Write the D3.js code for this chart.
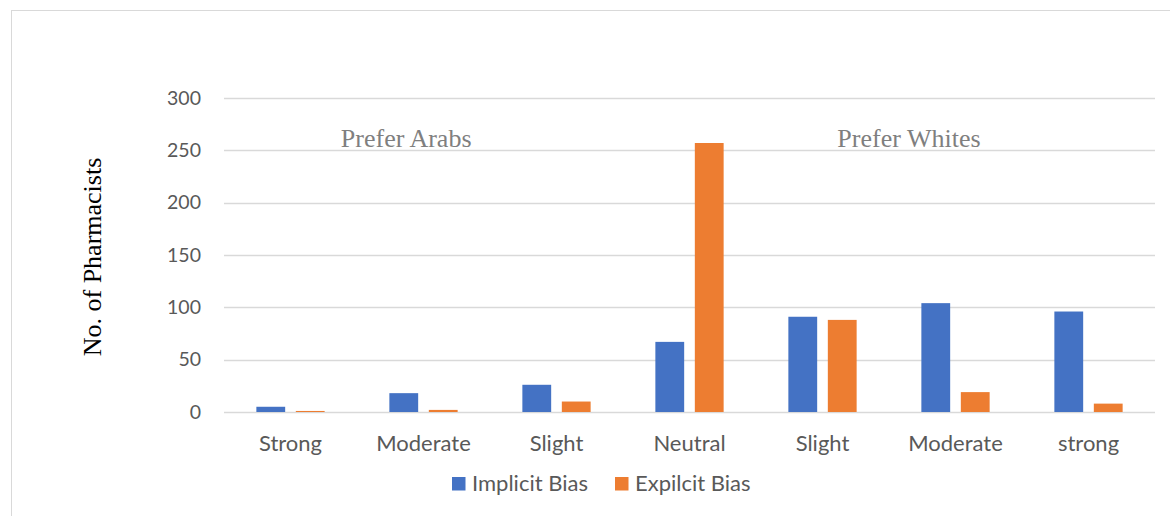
<!DOCTYPE html>
<html>
<head>
<meta charset="utf-8">
<script src="https://cdn.jsdelivr.net/npm/d3@7"></script>
<style>
  html, body { margin: 0; padding: 0; background: #fff; }
  svg { display: block; }
</style>
</head>
<body>
<svg id="chart" width="1170" height="516"></svg>
<script>
// Bias category along the IAT / self-report scale
const categories = ["Strong", "Moderate", "Slight", "Neutral", "Slight", "Moderate", "strong"];
const seriesNames = ["Implicit Bias", "Expilcit Bias"];
const implicitBias = [5, 18, 26, 67, 91, 104, 96];
const explicitBias = [1, 2, 10, 257, 88, 19, 8];
const yTicks = [0, 50, 100, 150, 200, 250, 300];
const sideLabels = ["Prefer Arabs", "Prefer Whites"];
const colors = ["#4472C4", "#ED7D31"];

const svg = d3.select("#chart");
const W = 1170, H = 516;
const margin = { left: 224, right: 15, top: 98, bottom: 104 };
const sans = "Lato, 'Open Sans', sans-serif";
const serif = "'Liberation Serif', 'Times New Roman', serif";

// Outer frame
svg.append("rect")
  .attr("x", 11.5).attr("y", 10.5)
  .attr("width", W + 10).attr("height", H + 10)
  .attr("fill", "#fff").attr("stroke", "#d9d9d9").attr("stroke-width", 1);

const x = d3.scaleBand()
  .domain(d3.range(categories.length))
  .range([margin.left, W - margin.right])
  .paddingInner(0).paddingOuter(0);

const y = d3.scaleLinear()
  .domain([0, 300])
  .range([H - margin.bottom, margin.top]);

const x1 = d3.scaleBand()
  .domain([0, 1])
  .range([0, x.bandwidth()])
  .paddingInner(0.27)
  .paddingOuter(0.82);

// Gridlines
svg.append("g")
  .selectAll("line")
  .data(yTicks)
  .join("line")
  .attr("x1", margin.left).attr("x2", W - margin.right)
  .attr("y1", d => Math.round(y(d)) + 0.5).attr("y2", d => Math.round(y(d)) + 0.5)
  .attr("stroke", "#d9d9d9").attr("stroke-width", 1.5);

// Y axis tick labels
const yAxis = d3.axisLeft(y).tickValues(yTicks).tickSize(0).tickPadding(0);
const gy = svg.append("g")
  .attr("transform", `translate(201,0)`)
  .call(yAxis);
gy.select(".domain").remove();
gy.selectAll("text")
  .attr("font-family", sans)
  .attr("font-size", 19.5)
  .attr("fill", "#595959");

// Bars
const series = [implicitBias, explicitBias];
const groups = svg.append("g")
  .selectAll("g")
  .data(categories.map((c, i) => i))
  .join("g")
  .attr("transform", i => `translate(${x(i)},0)`);

groups.selectAll("rect")
  .data(i => series.map((s, k) => ({ k, v: s[i] })))
  .join("rect")
  .attr("x", d => x1(d.k))
  .attr("width", x1.bandwidth())
  .attr("y", d => y(d.v))
  .attr("height", d => y(0) - y(d.v))
  .attr("fill", d => colors[d.k]);

// X axis category labels
const xAxis = d3.axisBottom(x).tickFormat(i => categories[i]).tickSize(0).tickPadding(0);
const gx = svg.append("g")
  .attr("transform", `translate(0,${y(0) + 23})`)
  .call(xAxis);
gx.select(".domain").remove();
gx.selectAll("text")
  .attr("font-family", sans)
  .attr("font-size", 22)
  .attr("fill", "#595959");

// Side annotations, placed in category units across the band axis
const sideAt = [1.37, 5.15];
svg.append("g")
  .selectAll("text")
  .data(sideLabels)
  .join("text")
  .attr("x", (d, i) => margin.left + sideAt[i] * x.step())
  .attr("y", 147)
  .attr("text-anchor", "middle")
  .attr("font-family", serif)
  .attr("font-size", 26)
  .attr("fill", "#7f7f7f")
  .text(d => d);

// Y axis title
svg.append("text")
  .attr("transform", `translate(101,257) rotate(-90)`)
  .attr("text-anchor", "middle")
  .attr("font-family", serif)
  .attr("font-size", 26)
  .attr("fill", "#000")
  .text("No. of Pharmacists");

// Legend
const legend = svg.append("g").attr("transform", "translate(452,477)");
const legendOffsets = [0, 163];
seriesNames.forEach((name, k) => {
  const g = legend.append("g").attr("transform", `translate(${legendOffsets[k]},0)`);
  g.append("rect").attr("width", 13.5).attr("height", 13.5).attr("fill", colors[k]);
  g.append("text")
    .attr("x", 20).attr("y", 13.5)
    .attr("font-family", sans)
    .attr("font-size", 22)
    .attr("fill", "#595959")
    .text(name);
});
</script>
</body>
</html>
